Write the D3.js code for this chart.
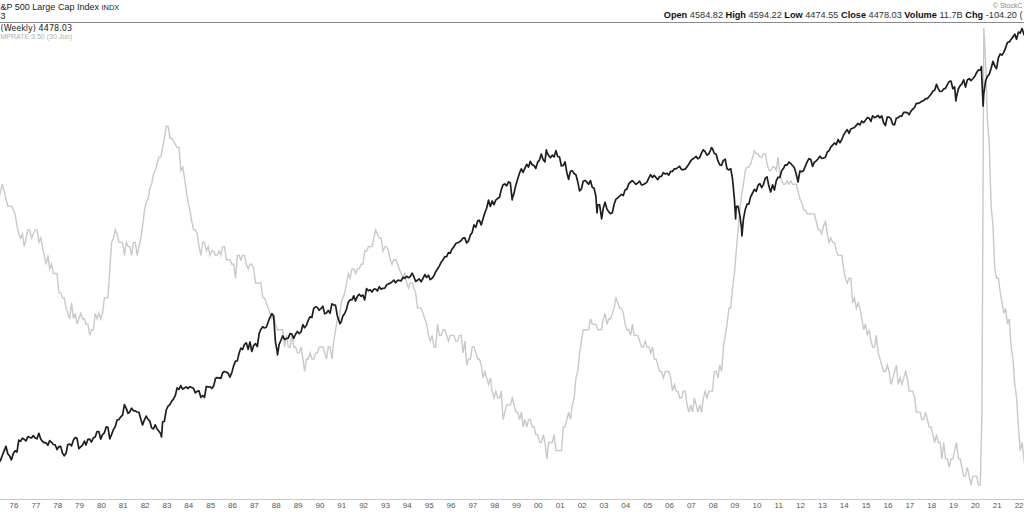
<!DOCTYPE html>
<html><head><meta charset="utf-8">
<script src="https://cdn.jsdelivr.net/npm/d3@7"></script>
<style>html,body{margin:0;padding:0;background:#fff;overflow:hidden}</style>
</head><body><svg id="c" width="1024" height="512"></svg>
<script>
// ---------- DATA ----------
const spxStartYear = 1975; // monthly closes, Jan 1975 onward
const spxMonthlyClose = [
76.98,81.59,83.36,87.30,91.15,95.19,88.75,86.88,83.87,89.04,91.24,90.19,
100.86,99.71,102.77,101.64,100.18,104.28,103.44,102.91,105.24,102.90,102.10,107.46,
102.03,99.82,98.42,98.44,96.12,100.48,98.85,96.77,96.53,92.34,94.83,95.10,
89.25,87.04,89.21,96.83,97.24,95.53,100.68,103.29,102.54,93.15,94.70,96.11,
99.93,96.28,101.59,101.76,99.08,102.91,103.81,109.32,109.32,101.82,106.16,107.94,
114.16,113.66,102.09,106.29,111.24,114.24,121.67,122.38,125.46,127.47,140.52,135.76,
129.55,131.27,136.00,132.81,132.59,131.21,130.92,122.79,116.18,121.89,126.35,122.55,
120.40,113.11,111.96,116.44,111.88,109.61,107.09,119.51,120.42,133.71,138.54,140.64,
145.30,148.06,152.96,164.42,162.39,168.11,162.56,164.40,166.07,163.55,166.40,164.93,
163.41,157.06,159.18,160.05,150.55,153.18,150.66,166.68,166.10,166.09,163.58,167.24,
179.63,181.18,180.66,179.83,189.55,191.85,190.92,188.63,182.08,189.82,202.17,211.28,
211.78,226.92,238.90,235.52,247.35,250.84,236.12,252.93,231.32,243.98,249.22,242.17,
274.08,284.20,291.70,288.36,290.10,304.00,318.66,329.80,321.83,251.79,230.30,247.08,
257.07,267.82,258.89,261.33,262.16,273.50,272.02,261.52,271.91,278.97,273.70,277.72,
297.47,288.86,294.87,309.64,320.52,317.98,346.08,351.45,349.15,340.36,345.99,353.40,
329.08,331.89,339.94,330.80,361.23,358.02,356.15,322.56,306.05,304.00,322.22,330.22,
343.93,367.07,375.22,375.35,389.83,371.16,387.81,395.43,387.86,392.46,375.22,417.09,
408.79,412.70,403.69,414.95,415.35,408.14,424.21,414.03,417.80,418.68,431.35,435.71,
438.78,443.38,451.67,440.19,450.19,450.53,448.13,463.56,458.93,467.83,461.79,466.45,
481.61,467.14,445.77,450.91,456.50,444.27,458.26,475.49,462.69,472.35,453.69,459.27,
470.42,487.39,500.71,514.71,533.40,544.75,562.06,561.88,584.41,581.50,605.37,615.93,
636.02,640.43,645.50,654.17,669.12,670.63,639.95,651.99,687.33,705.27,757.02,740.74,
786.16,790.82,757.12,801.34,848.28,885.14,954.31,899.47,947.28,914.62,955.40,970.43,
980.28,1049.34,1101.75,1111.75,1090.82,1133.84,1120.67,957.28,1017.01,1098.67,1163.63,1229.23,
1279.64,1238.33,1286.37,1335.18,1301.84,1372.71,1328.72,1320.41,1282.71,1362.93,1388.91,1469.25,
1394.46,1366.42,1498.58,1452.43,1420.60,1454.60,1430.83,1517.68,1436.51,1429.40,1314.95,1320.28,
1366.01,1239.94,1160.33,1249.46,1255.82,1224.42,1211.23,1133.58,1040.94,1059.78,1139.45,1148.08,
1130.20,1106.73,1147.39,1076.92,1067.14,989.82,911.62,916.07,815.28,885.76,936.31,879.82,
855.70,841.15,848.18,916.92,963.59,974.50,990.31,1008.01,995.97,1050.71,1058.20,1111.92,
1131.13,1144.94,1126.21,1107.30,1120.68,1140.84,1101.72,1104.24,1114.58,1130.20,1173.82,1211.92,
1181.27,1203.60,1180.59,1156.85,1191.50,1191.33,1234.18,1220.33,1228.81,1207.01,1249.48,1248.29,
1280.08,1280.66,1294.83,1310.61,1270.09,1270.20,1276.66,1303.82,1335.85,1377.94,1400.63,1418.30,
1438.24,1406.82,1420.86,1482.37,1530.62,1503.35,1455.27,1473.99,1526.75,1549.38,1481.14,1468.36,
1378.55,1330.63,1322.70,1385.59,1400.38,1280.00,1267.38,1282.83,1166.36,968.75,896.24,903.25,
825.88,735.09,797.87,872.81,919.14,919.32,987.48,1020.62,1057.08,1036.19,1095.63,1115.10,
1073.87,1104.49,1169.43,1186.69,1089.41,1030.71,1101.60,1049.33,1141.20,1183.26,1180.55,1257.64,
1286.12,1327.22,1325.83,1363.61,1345.20,1320.64,1292.28,1218.89,1131.42,1253.30,1246.96,1257.60,
1312.41,1365.68,1408.47,1397.91,1310.33,1362.16,1379.32,1406.58,1440.67,1412.16,1416.18,1426.19,
1498.11,1514.68,1569.19,1597.57,1630.74,1606.28,1685.73,1632.97,1681.55,1756.54,1805.81,1848.36,
1782.59,1859.45,1872.34,1883.95,1923.57,1960.23,1930.67,2003.37,1972.29,2018.05,2067.56,2058.90,
1994.99,2104.50,2067.89,2085.51,2107.39,2063.11,2103.84,1972.18,1920.03,2079.36,2080.41,2043.94,
1940.24,1932.23,2059.74,2065.30,2096.95,2098.86,2173.60,2170.95,2168.27,2126.15,2198.81,2238.83,
2278.87,2363.64,2362.72,2384.20,2411.80,2423.41,2470.30,2471.65,2519.36,2575.26,2647.58,2673.61,
2823.81,2713.83,2640.87,2648.05,2705.27,2718.37,2816.29,2901.52,2913.98,2711.74,2760.17,2506.85,
2704.10,2784.49,2834.40,2945.83,2752.06,2941.76,2980.38,2926.46,2976.74,3037.56,3140.98,3230.78,
3225.52,2954.22,2584.59,2912.43,3044.31,3100.29,3271.12,3500.31,3363.00,3269.96,3621.63,3756.07,
3714.24,3811.15,3972.89,4181.17,4204.11,4297.50,4395.26,4522.68,4307.54,4605.38,4567.00,4766.18,
4515.55,4373.94,4530.41,4131.93,4132.15,3785.38
];
// notable weekly closes (extremes)
const spxWeeklyDates = ["1982-08-13","1987-12-04","1990-10-12","1998-09-04","2000-03-24","2002-07-19","2002-10-04","2007-10-12","2008-11-21","2009-03-06","2018-12-21","2020-02-21","2020-03-20"];
const spxWeeklyValues = [103.85,223.92,300.03,973.89,1527.46,847.76,800.58,1561.80,800.03,683.38,2416.62,3337.75,2304.92];

const unempStartYear = 1975; // monthly unemployment rate, Jan 1975 onward
const unempMonthly = [
8.1,8.1,8.6,8.8,9.0,8.8,8.6,8.4,8.4,8.4,8.3,8.2,
7.9,7.7,7.6,7.7,7.4,7.6,7.8,7.8,7.6,7.7,7.8,7.8,
7.5,7.6,7.4,7.2,7.0,7.2,6.9,7.0,6.8,6.8,6.8,6.4,
6.4,6.3,6.3,6.1,6.0,5.9,6.2,5.9,6.0,5.8,5.9,6.0,
5.9,5.9,5.8,5.8,5.6,5.7,5.7,6.0,5.9,6.0,5.9,6.0,
6.3,6.3,6.3,6.9,7.5,7.6,7.8,7.7,7.5,7.5,7.5,7.2,
7.5,7.4,7.4,7.2,7.5,7.5,7.2,7.4,7.6,7.9,8.3,8.5,
8.6,8.9,9.0,9.3,9.4,9.6,9.8,9.8,10.1,10.4,10.8,10.8,
10.4,10.4,10.3,10.2,10.1,10.1,9.4,9.5,9.2,8.8,8.5,8.3,
8.0,7.8,7.8,7.7,7.4,7.2,7.5,7.5,7.3,7.4,7.2,7.3,
7.3,7.2,7.2,7.3,7.2,7.4,7.4,7.1,7.1,7.1,7.0,7.0,
6.7,7.2,7.2,7.1,7.2,7.2,7.0,6.9,7.0,7.0,6.9,6.6,
6.6,6.6,6.6,6.3,6.3,6.2,6.1,6.0,5.9,6.0,5.8,5.7,
5.7,5.7,5.7,5.4,5.6,5.4,5.4,5.6,5.4,5.4,5.3,5.3,
5.4,5.2,5.0,5.2,5.2,5.3,5.2,5.2,5.3,5.3,5.4,5.4,
5.4,5.3,5.2,5.4,5.4,5.2,5.5,5.7,5.9,5.9,6.2,6.3,
6.4,6.6,6.8,6.7,6.9,6.9,6.8,6.9,6.9,7.0,7.0,7.3,
7.3,7.4,7.4,7.4,7.6,7.8,7.7,7.6,7.6,7.3,7.4,7.4,
7.3,7.1,7.0,7.1,7.1,7.0,6.9,6.8,6.7,6.8,6.6,6.5,
6.6,6.6,6.5,6.4,6.1,6.1,6.1,6.0,5.9,5.8,5.6,5.5,
5.6,5.4,5.4,5.8,5.6,5.6,5.7,5.7,5.6,5.5,5.6,5.6,
5.6,5.5,5.5,5.6,5.6,5.3,5.5,5.1,5.2,5.2,5.4,5.4,
5.3,5.2,5.2,5.1,4.9,5.0,4.9,4.8,4.9,4.7,4.6,4.7,
4.6,4.6,4.7,4.3,4.4,4.5,4.5,4.5,4.6,4.5,4.4,4.4,
4.3,4.4,4.2,4.3,4.2,4.3,4.3,4.2,4.2,4.1,4.1,4.0,
4.0,4.1,4.0,3.8,4.0,4.0,4.0,4.1,3.9,3.9,3.9,3.9,
4.2,4.2,4.3,4.4,4.3,4.5,4.6,4.9,5.0,5.3,5.5,5.7,
5.7,5.7,5.7,5.9,5.8,5.8,5.8,5.7,5.7,5.7,5.9,6.0,
5.8,5.9,5.9,6.0,6.1,6.3,6.2,6.1,6.1,6.0,5.8,5.7,
5.7,5.6,5.8,5.6,5.6,5.6,5.5,5.4,5.4,5.5,5.4,5.4,
5.3,5.4,5.2,5.2,5.1,5.0,5.0,4.9,5.0,5.0,5.0,4.9,
4.7,4.8,4.7,4.7,4.6,4.6,4.7,4.7,4.5,4.4,4.5,4.4,
4.6,4.5,4.4,4.5,4.4,4.6,4.7,4.6,4.7,4.7,4.7,5.0,
5.0,4.9,5.1,5.0,5.4,5.6,5.8,6.1,6.1,6.5,6.8,7.3,
7.8,8.3,8.7,9.0,9.4,9.5,9.5,9.6,9.8,10.0,9.9,9.9,
9.8,9.8,9.9,9.9,9.6,9.4,9.4,9.5,9.5,9.4,9.8,9.3,
9.1,9.0,9.0,9.1,9.0,9.1,9.0,9.0,9.0,8.8,8.6,8.5,
8.3,8.3,8.2,8.2,8.2,8.2,8.2,8.0,7.8,7.8,7.7,7.9,
8.0,7.7,7.5,7.6,7.5,7.5,7.3,7.2,7.2,7.2,6.9,6.7,
6.6,6.7,6.7,6.2,6.3,6.1,6.2,6.1,5.9,5.7,5.8,5.6,
5.7,5.5,5.4,5.4,5.6,5.3,5.2,5.1,5.0,5.0,5.1,5.0,
4.8,4.9,5.0,5.1,4.8,4.9,4.8,4.9,5.0,4.9,4.7,4.7,
4.7,4.6,4.4,4.4,4.4,4.3,4.3,4.4,4.3,4.2,4.2,4.1,
4.0,4.1,4.0,4.0,3.8,4.0,3.8,3.8,3.7,3.8,3.8,3.9,
4.0,3.8,3.8,3.7,3.6,3.6,3.7,3.6,3.5,3.6,3.6,3.6,
3.5,3.5,4.4,14.7,13.2,11.0,10.2,8.4,7.9,6.9,6.7,6.7,
6.4,6.2,6.0,6.1,5.8,5.9,5.4,5.2,4.8,4.6,4.2,3.9,
4.0,3.8,3.6,3.6,3.6,3.6
];
const yearTicks = d3.range(1976, 2023);
const yearLabels = yearTicks.map(y => String(y % 100).padStart(2, "0"));

// ---------- SCALES ----------
const W = 1024, H = 512, plotTop = 22, plotBottom = 499;
const svg = d3.select("#c");
const x = d3.scaleTime().domain([new Date(1976,0,1), new Date(2022,0,1)]).range([17, 1022.1]);
const ySpx = d3.scaleLog().domain([58.1, 5064]).range([plotBottom, plotTop]);
const yUn = d3.scaleLog().domain([3.35, 14.98]).range([plotBottom, plotTop]);

// ---------- SERIES ----------
let spx = spxMonthlyClose.map((v,i) => ({d: new Date(spxStartYear, i+1, 0), v}));
spxWeeklyDates.forEach((s,i) => spx.push({d: new Date(s + "T00:00:00"), v: spxWeeklyValues[i]}));
spx.sort((a,b) => a.d - b.d);
const un = unempMonthly.map((v,i) => ({d: new Date(unempStartYear, i, 1), v}));

svg.append("rect").attr("width", W).attr("height", H).attr("fill", "#fff");
svg.append("defs").append("clipPath").attr("id","plot")
  .append("rect").attr("x",0).attr("y",plotTop).attr("width",W).attr("height",plotBottom-plotTop);

const g = svg.append("g").attr("clip-path","url(#plot)");
g.append("path").datum(un)
  .attr("d", d3.line().x(d=>x(d.d)).y(d=>yUn(d.v)))
  .attr("fill","none").attr("stroke","#c9c9c9").attr("stroke-width",1.4);
g.append("path").datum(spx)
  .attr("d", d3.line().x(d=>x(d.d)).y(d=>ySpx(d.v)))
  .attr("fill","none").attr("stroke","#1e1e1e").attr("stroke-width",1.7).attr("stroke-linejoin","round");

// ---------- AXIS ----------
svg.append("line").attr("x1",0).attr("x2",W).attr("y1",plotBottom+0.5).attr("y2",plotBottom+0.5)
  .attr("stroke","#c8c8c8").attr("stroke-width",1);
svg.append("g").selectAll("text").data(yearTicks).join("text")
  .attr("x", d => x(new Date(d,0,1)) - 3).attr("y", 508)
  .attr("text-anchor","middle").attr("font-family","Liberation Sans, Arial, sans-serif")
  .attr("font-size", 8).attr("fill","#555").text((d,i) => yearLabels[i]);

// ---------- HEADER (visible portion of the cropped header) ----------
svg.append("line").attr("x1",0).attr("x2",W).attr("y1",22.5).attr("y2",22.5)
  .attr("stroke","#8c8c8c").attr("stroke-width",1);
const t1 = svg.append("text").attr("x",0.5).attr("y",10)
  .attr("font-family","Liberation Sans, Arial, sans-serif").attr("font-size",9).attr("fill","#222");
t1.append("tspan").text("&P 500 Large Cap Index ");
t1.append("tspan").attr("font-size",7.5).text("INDX");
svg.append("text").attr("x",0.5).attr("y",19)
  .attr("font-family","Liberation Sans, Arial, sans-serif").attr("font-size",9).attr("fill","#222")
  .text("3");
svg.append("text").attr("x",0.5).attr("y",31)
  .attr("font-family","DejaVu Sans, Verdana, sans-serif").attr("font-size",8.1).attr("fill","#222")
  .text("(Weekly) 4478.03");
svg.append("text").attr("x",0.5).attr("y",39.3)
  .attr("font-family","Liberation Sans, Arial, sans-serif").attr("font-size",7).attr("fill","#b0b0b0")
  .text("MPRATE 3.50 (30 Jun)");
svg.append("text").attr("x",1022.5).attr("y",7.5).attr("text-anchor","end")
  .attr("font-family","Liberation Sans, Arial, sans-serif").attr("font-size",7).attr("fill","#888")
  .text("© StockC");
const hdr = [["Open","4584.82"],["High","4594.22"],["Low","4474.55"],["Close","4478.03"],["Volume","11.7B"],["Chg","-104.20 ("]];
const t2 = svg.append("text").attr("x",1022.5).attr("y",18).attr("text-anchor","end")
  .attr("font-family","Liberation Sans, Arial, sans-serif").attr("font-size",9.2).attr("fill","#111");
hdr.forEach(([k,v],i) => {
  t2.append("tspan").attr("font-weight","bold").text((i?"  ":"") + k + " ");
  t2.append("tspan").attr("fill","#333").text(v);
});
</script></body></html>
